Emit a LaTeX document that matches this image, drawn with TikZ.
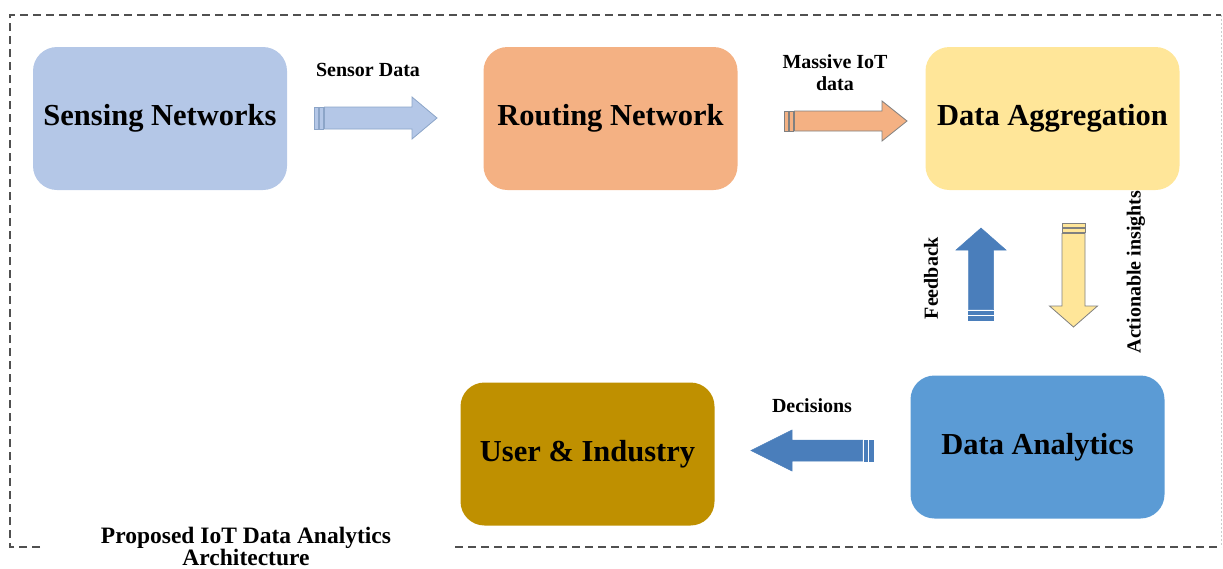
\documentclass[tikz,border=0pt]{standalone}
\usepackage{fontspec}
\setmainfont{Liberation Serif}
\usetikzlibrary{calc}

\definecolor{sensfill}{RGB}{180,199,231}
\definecolor{routfill}{RGB}{244,177,131}
\definecolor{aggrfill}{RGB}{255,230,153}
\definecolor{analfill}{RGB}{91,155,213}
\definecolor{userfill}{RGB}{191,144,0}
\definecolor{arrblue}{RGB}{74,126,187}
\definecolor{arrline}{RGB}{140,165,200}
\definecolor{framegray}{RGB}{80,80,80}

\tikzset{
  box/.style={shape=rectangle, rounded corners=24pt, minimum width=254pt,
    minimum height=143pt, font=\fontsize{30.5}{34}\selectfont\bfseries},
  lbl/.style={font=\fontsize{20}{22}\selectfont\bfseries, align=center},
  frame/.style={draw=framegray, line width=1.4pt, dash pattern=on 8pt off 5pt},
}

% striped block arrow: style, from, to, shaft half width, head half width, head length
\newcommand{\stripedarrow}[6]{%
  \path let \p1 = ($(#3)-(#2)$) in
    \pgfextra{\pgfmathsetmacro\arrlen{veclen(\x1,\y1)}%
      \pgfmathsetmacro\arrang{atan2(\y1,\x1)}%
      \global\let\arrlen\arrlen \global\let\arrang\arrang};
  \begin{scope}[shift={(#2)}, rotate=\arrang]
    \filldraw[#1] (0,-#4) rectangle (4,#4);
    \filldraw[#1] (5.5,-#4) rectangle (9,#4);
    \filldraw[#1] (10.5,-#4) -- ({\arrlen-#6},-#4) -- ({\arrlen-#6},-#5)
      -- (\arrlen,0) -- ({\arrlen-#6},#5) -- ({\arrlen-#6},#4) -- (10.5,#4) -- cycle;
  \end{scope}}

\begin{document}
\begin{tikzpicture}[x=1pt, y=-1pt]
  \useasboundingbox (0,0) rectangle (1223,568);

  % frame
  \draw[frame] (40,547) -- (10,547) -- (10,15) -- (1221,15);
  \draw[frame] (455,547) -- (1221,547);
  \draw[gray!40, line width=0.8pt, dash pattern=on 2pt off 2pt] (1221,15) -- (1221,547);

  % boxes
  \node (sens) at (160,118.5) [box, fill=sensfill] {Sensing Networks};
  \node (rout) at (610.5,118.5) [box, fill=routfill] {Routing Network};
  \node (aggr) at (1052.5,118.5) [box, fill=aggrfill] {Data Aggregation};
  \node (anal) at (1037.5,447) [box, fill=analfill] {Data Analytics};
  \node (user) at (587.5,454) [box, fill=userfill] {User \& Industry};

  % arrow ends
  \coordinate (sd-s) at (314,118);
  \coordinate (sd-e) at (437,118);
  \coordinate (mi-s) at (784,121);
  \coordinate (mi-e) at (907,121);
  \coordinate (fb-s) at (981,320);
  \coordinate (fb-e) at (981,228);
  \coordinate (ai-s) at (1073.5,223);
  \coordinate (ai-e) at (1073.5,327);
  \coordinate (de-s) at (873,450.5);
  \coordinate (de-e) at (751,450.5);

  \stripedarrow{fill=sensfill, draw=arrline, line width=0.8pt}{sd-s}{sd-e}{11}{21}{25}
  \stripedarrow{fill=routfill, draw=gray, line width=0.8pt}{mi-s}{mi-e}{10}{20}{25}
  \stripedarrow{fill=arrblue, draw=arrblue, line width=0.5pt}{fb-s}{fb-e}{12.5}{25}{22}
  \stripedarrow{fill=aggrfill, draw=gray, line width=0.8pt}{ai-s}{ai-e}{11.5}{24}{21}
  \stripedarrow{fill=arrblue, draw=arrblue, line width=0.5pt}{de-s}{de-e}{10.5}{20.5}{41}

  % labels
  \node (sd-l) at (368,70) [lbl] {Sensor Data};
  \node (mi-l) at (835,73) [lbl] {Massive IoT\\data};
  \node (fb-l) at (931,278) [lbl, rotate=90] {Feedback};
  \node (ai-l) at (1136,272) [lbl, rotate=90] {Actionable insights};
  \node (de-l) at (812,406) [lbl] {Decisions};
  \node (cap) at (246,546) [align=center, font=\fontsize{23.5}{22}\selectfont\bfseries]
    {Proposed IoT Data Analytics\\Architecture};
\end{tikzpicture}
\end{document}
